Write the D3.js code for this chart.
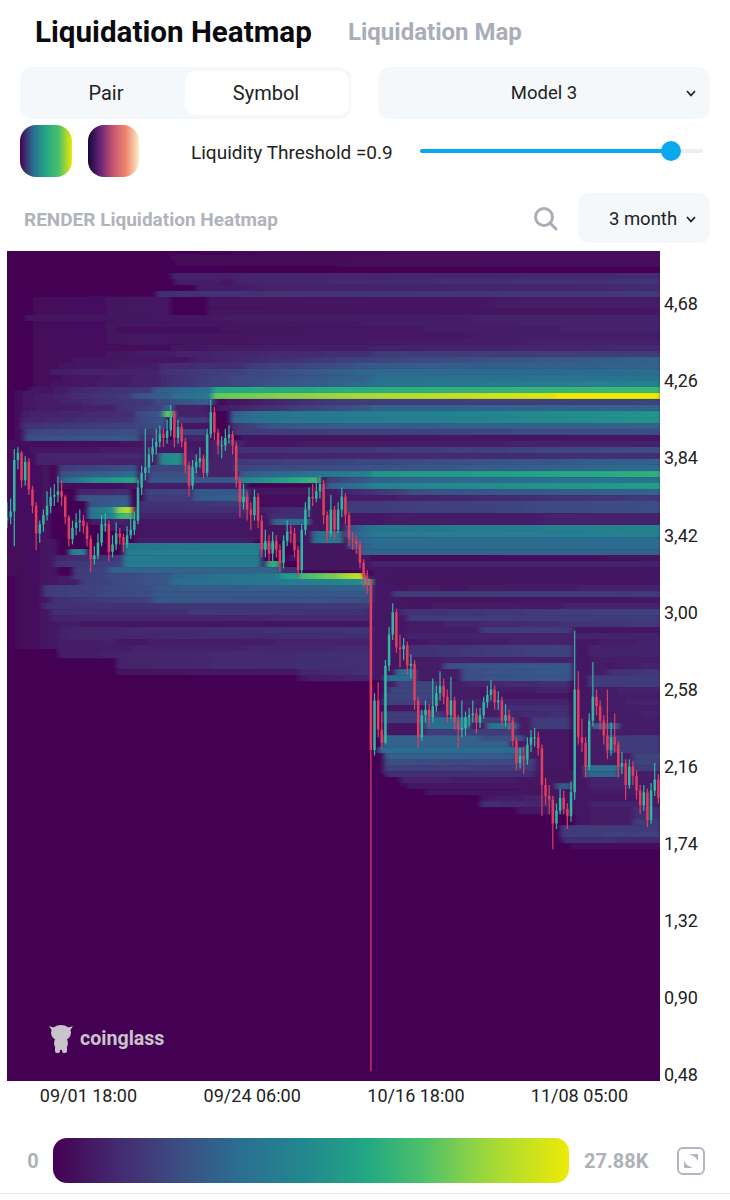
<!DOCTYPE html>
<html>
<head>
<meta charset="utf-8">
<script src="https://cdn.jsdelivr.net/npm/d3@7"></script>
<style>
  html, body { margin: 0; padding: 0; background: #fff; }
  svg { display: block; }
  text { font-family: Roboto, sans-serif; }
</style>
</head>
<body>
<script>
/* Axis ticks. */
const priceTicks = [4.68, 4.26, 3.84, 3.42, 3.00, 2.58, 2.16, 1.74, 1.32, 0.90, 0.48]
const dateTicks = ["2024-09-01T18:00Z", "2024-09-24T06:00Z", "2024-10-16T18:00Z", "2024-11-08T05:00Z"]

/* Legend, values in K. */
const legendValues = [0, 3.5, 7, 10, 13.5, 17, 20, 23.5, 27.88]
const legendColors = ["#440154", "#442a70", "#3b4f85", "#2b6d90", "#22878e", "#22a884", "#4dc06a", "#a0d83a", "#eeea05"]

/* 12 hour candles, open is the previous close. */
const candleClose = [3.52,3.55,3.83,3.87,3.72,3.82,3.67,3.58,3.43,3.48,3.53,3.58,3.63,3.64,3.66,3.63,3.52,3.40,3.46,3.49,
  3.50,3.47,3.40,3.29,3.31,3.38,3.48,3.48,3.33,3.37,3.43,3.41,3.37,3.42,3.45,3.50,3.68,3.76,3.79,3.86,
  3.90,3.93,3.97,3.95,3.99,4.08,3.95,4.01,3.93,3.80,3.69,3.79,3.82,3.84,3.76,3.97,4.09,3.98,3.91,3.91,
  3.95,3.97,3.91,3.72,3.60,3.63,3.56,3.53,3.63,3.50,3.34,3.39,3.32,3.39,3.34,3.27,3.39,3.44,3.43,3.34,
  3.23,3.45,3.56,3.63,3.62,3.66,3.70,3.53,3.43,3.56,3.45,3.56,3.63,3.53,3.40,3.39,3.37,3.27,3.19,3.16,
  2.25,2.52,2.36,2.29,2.71,2.88,3.00,2.81,2.80,2.82,2.71,2.72,2.52,2.32,2.44,2.47,2.43,2.49,2.56,2.60,
  2.54,2.44,2.52,2.40,2.36,2.37,2.43,2.44,2.45,2.40,2.44,2.51,2.55,2.58,2.51,2.52,2.41,2.44,2.41,2.30,
  2.18,2.22,2.20,2.28,2.32,2.32,2.26,2.06,2.00,1.98,1.85,1.92,1.99,1.93,1.89,2.02,2.58,2.32,2.29,2.16,
  2.41,2.54,2.49,2.41,2.33,2.25,2.32,2.28,2.16,2.18,2.06,2.16,2.11,2.03,1.95,2.02,1.87,2.03,2.09,1.99]
const candleHigh = [3.60,3.62,3.89,3.90,3.88,3.85,3.84,3.69,3.60,3.50,3.56,3.66,3.68,3.70,3.74,3.72,3.64,3.53,3.50,3.54,
  3.56,3.53,3.49,3.42,3.36,3.43,3.53,3.54,3.50,3.42,3.49,3.46,3.43,3.47,3.54,3.55,3.72,3.80,4.00,3.90,
  3.95,4.00,4.02,4.00,4.05,4.13,4.10,4.05,4.03,3.95,3.82,3.83,3.86,3.90,3.86,4.00,4.16,4.12,4.00,3.96,
  4.00,4.02,3.99,3.93,3.74,3.70,3.66,3.60,3.67,3.65,3.53,3.45,3.42,3.44,3.42,3.37,3.42,3.50,3.48,3.46,
  3.36,3.48,3.60,3.68,3.70,3.72,3.74,3.72,3.55,3.64,3.58,3.60,3.68,3.65,3.55,3.44,3.42,3.39,3.29,3.23,
  3.18,2.56,2.62,2.46,2.74,2.92,3.05,3.02,2.88,2.86,2.84,2.77,2.74,2.54,2.47,2.52,2.50,2.64,2.60,2.68,
  2.64,2.58,2.65,2.54,2.44,2.52,2.46,2.48,2.52,2.48,2.48,2.54,2.60,2.63,2.60,2.57,2.54,2.50,2.47,2.43,
  2.32,2.26,2.27,2.32,2.36,2.37,2.35,2.28,2.10,2.06,2.00,1.96,2.04,2.03,1.96,2.08,2.90,2.68,2.42,2.32,
  2.45,2.73,2.58,2.52,2.44,2.58,2.40,2.45,2.30,2.24,2.20,2.20,2.19,2.14,2.06,2.06,2.04,2.07,2.18,2.12]
const candleLow = [3.46,3.48,3.36,3.78,3.68,3.69,3.64,3.54,3.34,3.38,3.44,3.50,3.54,3.58,3.60,3.58,3.48,3.36,3.37,3.42,
  3.44,3.43,3.36,3.22,3.26,3.29,3.36,3.44,3.28,3.30,3.34,3.37,3.33,3.35,3.40,3.42,3.48,3.64,3.72,3.76,
  3.82,3.86,3.90,3.90,3.92,3.96,3.90,3.92,3.90,3.76,3.63,3.67,3.76,3.79,3.73,3.74,3.95,3.94,3.86,3.84,
  3.88,3.92,3.86,3.68,3.52,3.56,3.50,3.45,3.50,3.46,3.30,3.30,3.26,3.28,3.30,3.22,3.24,3.36,3.38,3.30,
  3.19,3.20,3.42,3.52,3.58,3.60,3.62,3.48,3.38,3.41,3.40,3.43,3.52,3.48,3.36,3.34,3.32,3.24,3.14,3.10,
  0.50,2.22,2.32,2.26,2.28,2.68,2.85,2.78,2.70,2.74,2.66,2.64,2.47,2.26,2.30,2.40,2.38,2.40,2.46,2.52,
  2.50,2.40,2.42,2.36,2.26,2.32,2.33,2.38,2.40,2.34,2.37,2.42,2.48,2.52,2.47,2.47,2.38,2.38,2.36,2.27,
  2.14,2.15,2.12,2.17,2.24,2.27,2.22,1.89,1.95,1.90,1.71,1.82,1.90,1.90,1.82,1.86,1.98,2.28,2.24,2.10,
  2.14,2.38,2.44,2.36,2.28,2.20,2.22,2.24,2.10,2.12,1.98,2.04,2.06,1.98,1.90,1.92,1.83,1.85,2.00,1.96]

/* Wide faint areas under the rows: top price, bottom price, first candle, last candle, value at start and end in K. */
const heatBase = [
  [4.72,4.21,7,45,.8,2],[4.21,3.94,2,8,.8,2.5],[3.94,3.20,0,12,1,1.5],[3.40,2.80,2,14,.5,2],
  [3.20,2.75,14,80,2.5,3],[3.20,2.63,80,100,3,3],[3.94,3.39,37,66,2.5,3],[3.68,3.39,66,93,1.5,1.5],[3.42,3.23,80,100,1.5,1.5],
  [3.32,2.63,100,180,2,3],[2.63,2.12,103,155,2.5,2],[2.12,2.05,108,150,1.2,1],[2.93,1.81,156,180,2,2.5],[1.81,1.75,152,180,2.5,2],
  [2.14,1.90,140,156,1.5,1.5]
]

/* Heat runs: row top price, first candle, last candle, value at start and end in K. */
const heatRuns = [
  [4.980,45,180,.4,1],[4.947,45,180,.8,1],[4.915,46,180,.5,1],[4.882,46,180,.3,.3],
  [4.849,45,60,3,3],[4.849,60,180,3,3.5],[4.817,46,62,2.5,2],[4.817,62,180,3,4.5],[4.784,52,180,2.5,3.5],
  [4.751,41,180,4,5],[4.718,55,180,1.5,2.5],[4.686,55,180,1.5,2.5],[4.653,55,180,1.5,1.5],
  [4.620,5,40,1.5,1.5],[4.620,40,180,2,3],[4.588,40,180,1.5,3],[4.555,30,180,1,3],[4.522,42,180,1.5,2.5],[4.490,45,180,1.5,3],
  [4.457,15,45,1,1],[4.457,45,180,2,3.5],[4.424,33,55,2,3],[4.424,55,100,3,4],[4.424,100,180,5,5],
  [4.391,18,50,1.5,2],[4.391,50,90,2.5,5],[4.391,90,180,5.5,9],
  [4.359,14,42,1.5,2.5],[4.359,42,65,3.5,4],[4.359,65,95,5,7],[4.359,95,180,8,9],
  [4.326,12,42,2.5,3],[4.326,42,65,4,6],[4.326,65,95,6,9],[4.326,95,180,9.5,10],
  [4.293,15,42,1.5,3],[4.293,42,60,3.5,6],[4.293,60,100,6,9],[4.293,100,180,10,11],
  [4.261,12,42,1.5,3],[4.261,42,60,3.5,6],[4.261,60,100,6,10],[4.261,100,180,11,13],
  [4.228,6,17,1.5,2.5],[4.228,17,40,3,5],[4.228,40,56.6,8,11],[4.228,56.6,180,17,19],
  [4.195,6,17,2,3],[4.195,17,34,3.5,5],[4.195,34,45,7,9],[4.195,45,56.6,10,12],[4.195,56.6,100,21,24],[4.195,100,150,24,27],[4.195,150,180,27.88,27.88],
  [4.163,6,20,2,3],[4.163,20,40,3.5,5],[4.163,40,56.6,6,9],[4.163,57,90,1,5],[4.163,90,180,5,6],
  [4.130,5,30,2,3],[4.130,30,43,4,6],[4.130,43,45.6,9,9],[4.130,46,56,3,2.5],[4.130,57,100,2,8],[4.130,100,180,9,9],
  [4.097,4,35,2.5,4],[4.097,35,43,6,8],[4.097,43,45.6,20,22],[4.097,46,56,3,3],[4.097,61.3,70,8,11],[4.097,70,180,11,15],
  [4.064,4,35,3,4.5],[4.064,35,44,6,8],[4.064,46,56,5,5],[4.064,61.3,70,9,11],[4.064,70,180,11,15],
  [4.032,4,36,4,6],[4.032,36,44,6,7],[4.032,46,56,2,2],[4.032,61.3,75,4,8],[4.032,75,180,8,9],
  [3.999,5,36,6,7],[3.999,36,43,5,5],[3.999,47,55,6,6],[3.999,62,180,5,7],
  [3.966,5,36,7,8],[3.966,36,42,4,4],[3.966,47,56,3,3],[3.966,64,180,1.5,2],
  [3.934,6.3,37,1,1.5],[3.934,40,46,2,2],[3.934,47,56,2,2],[3.934,65,180,2,3],
  [3.901,6.3,37,1.5,2.5],[3.901,40,50,2,2],[3.901,51,56,2,2],[3.901,62.6,180,4,7],
  [3.868,8,37,3,3.5],[3.868,42,48,13,15],[3.868,53,56,1.5,1.5],[3.868,62.6,180,3,4],
  [3.836,8,37,3,3],[3.836,42,48,13,15],[3.836,62.6,180,5,9],
  [3.803,14,36,5,7],[3.803,39,51,6,6],[3.803,62.6,180,6,10],
  [3.770,14,36,7,10],[3.770,39,52,7,7],[3.770,64,100,8,13],[3.770,100,180,15,18],
  [3.737,14,22,8,13],[3.737,22,36,14,17],[3.737,39,64,8,8],[3.737,64,86,13,19],[3.737,87.4,100,5,8],[3.737,100,180,9,11],
  [3.705,14,36,1,1.5],[3.705,37,64,2.5,2.5],[3.705,87.4,100,8,12],[3.705,100,180,13,16],
  [3.672,19,34,3,4],[3.672,38,50,6,6],[3.672,51,66,8,8],[3.672,87.4,110,2,6],[3.672,110,180,7,9],
  [3.639,19,34,7,8],[3.639,38,50,5,5],[3.639,51,66,8,9],[3.639,67,85,1,1],[3.639,87.4,180,2,5],
  [3.607,22,34,7,9],[3.607,36,66,4,5],[3.607,67,85,1,1.5],[3.607,93,180,5,7],
  [3.574,22,30,10,15],[3.574,30,34.6,22,26],[3.574,36,66,4,4],[3.574,70,83,3,4],[3.574,93,180,5,7],
  [3.541,22,30,10,14],[3.541,30,34.6,18,20],[3.541,35,66,3,3],[3.541,72,83,4,4],[3.541,93,180,2,3],
  [3.509,22,34,2,3],[3.509,35,66,2,2],[3.509,73,83,9,10],[3.509,93,180,2,3],
  [3.476,26,34,2,2],[3.476,34,66,2,2],[3.476,76,85,2,2],[3.476,93,100,6,11],[3.476,100,180,11,13],
  [3.443,35,66,2,2],[3.443,76,85,2,2],[3.443,84,92,10,11],[3.443,93,100,8,11],[3.443,100,180,12,13],
  [3.410,35,68,2.5,2.5],[3.410,76,84,2,2],[3.410,84,92,11,12],[3.410,94,100,8,10],[3.410,100,180,10,10],
  [3.378,32,70,11,12],[3.378,70,74,7,5],[3.378,94,100,7,9],[3.378,100,180,10,10],
  [3.345,17,22,12,13],[3.345,32,70,12,13],[3.345,97,180,9,9],
  [3.312,13,32,3,5],[3.312,32,70,12,12],[3.312,77,85,2,2],[3.312,100,180,1,1.5],
  [3.280,13,32,4,6],[3.280,32,70,12,12],[3.280,71,75,17,18],[3.280,100,180,3,3],
  [3.247,18,28,5,6],[3.247,28,75,9,9],[3.247,75,80,4,4],[3.247,104,180,2,2],
  [3.214,18,45,5,8],[3.214,45,75,9,12],[3.214,75,80.5,15,16],[3.214,80.5,90,19,22],[3.214,90,98,22,26],[3.214,104,180,1.5,1.5],
  [3.182,20,45,5,8],[3.182,45,80,10,12],[3.182,80,98,12,14],[3.182,98,100,18,20],[3.182,104,180,1.5,2],
  [3.149,10,40,5,7],[3.149,40,100,8,9],[3.149,119,180,2,3],
  [3.116,10,40,5,7],[3.116,40,100,8,8],[3.116,106,180,5,5],
  [3.083,12,40,4,6],[3.083,40,100,8,7],[3.083,108,180,1.5,2],
  [3.051,10,100,4,5],[3.051,108,180,2,3],
  [3.018,12,50,4,4],[3.018,50,100,5,4],[3.018,108,180,4,6],
  [2.985,12,100,3,3.5],[2.985,110,180,5,5],
  [2.953,20,100,1.5,1.5],[2.953,120,180,3,5],
  [2.920,15,100,3,4.5],[2.920,130,155,5,5],[2.920,156,180,1.5,2],
  [2.887,14,100,3,4],[2.887,110,180,3,3],
  [2.855,30,100,2,3],[2.855,110,155,2,3],[2.855,160,180,2,3],
  [2.822,25,100,2.5,3.5],[2.822,110,155,4,6],[2.822,160,180,3,3],
  [2.789,30,100,3,4],[2.789,110,155,4,6],[2.789,160,180,3,3],
  [2.756,30,100,3,4],[2.756,120,155,3,3],
  [2.724,30,100,3,4],[2.724,120,155,7,8],[2.724,165,180,2,3],
  [2.691,30,80,1.5,2],[2.691,80,100,3,4],[2.691,107,112,10,10],[2.691,125,155,7,8],[2.691,165,180,4,5],
  [2.658,80,100,2,3],[2.658,104,112,10,10],[2.658,125,155,7,8],[2.658,160,180,5,5],
  [2.626,107,118,6,6],[2.626,125,155,3,4],[2.626,160,180,5,5],
  [2.593,105,118,6,6],[2.593,130,155,2,3],[2.593,165,180,2.5,3],
  [2.560,104,118,6,6],[2.560,130,155,2,2],
  [2.528,103,118,6,5],[2.528,125,155,3,3],[2.528,170,180,3,3],
  [2.495,103,120,2,1.5],[2.495,135,155,4,4],
  [2.462,103,120,5,5],[2.462,135,155,3,4],[2.462,165,180,2,3],
  [2.429,103,115,5,5],[2.429,115,127,10,10],[2.429,127,140,5,5],[2.429,144,155,5,5],
  [2.397,103,115,2,2],[2.397,115,127,10,10],[2.397,132,140,11,11],[2.397,144,155,5,5],[2.397,161,168,9,9],
  [2.364,103,115,2,2],[2.364,115,140,5,5],
  [2.331,103,130,9,9],[2.331,130,142,7,7],[2.331,165,180,5,5],
  [2.299,103,138,9,9],[2.299,165,180,5,5],
  [2.266,102,142,10,10],[2.266,165,180,5,5],
  [2.233,104,142,9,8],[2.233,172,180,6,6],
  [2.201,104,145,7,6],[2.201,172,180,6,6],
  [2.168,104,145,6,5],[2.168,159,168,10,11],[2.168,172,180,5,5],
  [2.135,104,145,4,4],[2.135,159,168,9,9],
  [2.102,108,145,3,2],[2.102,160,172,3,3],
  [2.070,110,145,2,2],[2.070,151,155,8,8],[2.070,160,172,3,3],
  [2.037,115,140,1.5,1.5],
  [2.004,130,150,2,3],[2.004,160,175,2,2],
  [1.972,130,150,4,3],[1.972,160,175,3,3],
  [1.939,140,155,2,2],[1.939,172,180,4,4],
  [1.906,172,180,4,4],[1.874,172,180,5,5],
  [1.841,152,180,5,5],[1.808,152,180,5,6],[1.775,153,180,4,3.5],[1.743,155,180,1,1]
]

/* Height of one heat row in price. */
const rowStep = 0.0327

/* Define svg-size. */
const width = 730
const height = 1200

/* Plot box. */
const plot = { left: 7, right: 660, top: 251, bottom: 1081 }

/* Create svg-element. */
const svg = d3.select("body")
  .append("svg")
  .attr("width", width)
  .attr("height", height)

const defs = svg.append("defs")

/* Define scales. */
const firstCandle = Date.UTC(2024, 7, 21, 15)
const candleDate = i => new Date(firstCandle + i * 12 * 3600 * 1000)

const x = d3.scaleUtc()
  .domain([candleDate(0), candleDate(180)])
  .range([plot.left, plot.left + 655])

const y = d3.scaleLinear()
  .domain([0.4473, 4.9687])
  .range([plot.bottom, plot.top])

const color = d3.scaleLinear()
  .domain(legendValues)
  .range(legendColors)
  .interpolate(d3.interpolateRgb)

/* Small helpers for the control panel. */
const panel = (px, py, w, h, r, fill) => svg.append("rect")
  .attr("x", px).attr("y", py).attr("width", w).attr("height", h)
  .attr("rx", r).attr("fill", fill)

const label = (px, py, str, size, fill, weight, anchor) => svg.append("text")
  .attr("x", px).attr("y", py)
  .attr("font-size", size).attr("fill", fill)
  .attr("font-weight", weight || 400)
  .attr("text-anchor", anchor || "start")
  .attr("dominant-baseline", "central")
  .text(str)

const chevron = (cx, cy) => svg.append("path")
  .attr("d", `M${cx - 4},${cy - 2}L${cx},${cy + 2.5}L${cx + 4},${cy - 2}`)
  .attr("fill", "none").attr("stroke", "#222").attr("stroke-width", 1.8)

const hGradient = (id, stops) => {
  const g = defs.append("linearGradient").attr("id", id)
  stops.forEach((s, i) => g.append("stop")
    .attr("offset", i / (stops.length - 1))
    .attr("stop-color", s))
}

/* Header. */
label(35, 32, "Liquidation Heatmap", 29.6, "#0b0b0f", 700)
label(348, 32, "Liquidation Map", 24, "#a9aeb6", 700)

panel(20, 67, 331, 52, 12, "#f5f8fa")
panel(185, 71, 164, 44, 10, "#ffffff")
label(106, 93, "Pair", 20, "#222", 400, "middle")
label(266, 93, "Symbol", 20, "#222", 400, "middle")

panel(378, 67, 332, 52, 12, "#f5f8fa")
label(544, 93, "Model 3", 18.5, "#222", 400, "middle")
chevron(691, 93)

/* Colour scheme buttons. */
hGradient("swatch1", ["#440154", "#2b6d90", "#22a884", "#4dc06a", "#eeea05"])
hGradient("swatch2", ["#14083a", "#6b2478", "#c9566f", "#f0876e", "#fbeec8"])
panel(20, 125, 52, 52, 16, "url(#swatch1)")
panel(88, 125, 51, 52, 16, "url(#swatch2)")

/* Threshold slider. */
label(191, 152, "Liquidity Threshold =0.9", 19, "#222")
panel(420, 149, 283, 4, 2, "#eeeeee")
panel(420, 149, 251, 4, 2, "#0aa8ee")
svg.append("circle").attr("cx", 671).attr("cy", 151).attr("r", 10).attr("fill", "#0aa8ee")

/* Chart title row. */
label(24, 219, "RENDER Liquidation Heatmap", 19, "#b0b4ba", 700)
svg.append("circle").attr("cx", 544).attr("cy", 217).attr("r", 8.5)
  .attr("fill", "none").attr("stroke", "#a9aeb6").attr("stroke-width", 3)
svg.append("line").attr("x1", 550).attr("y1", 223).attr("x2", 556).attr("y2", 229)
  .attr("stroke", "#a9aeb6").attr("stroke-width", 3).attr("stroke-linecap", "round")
panel(578, 193, 132, 50, 10, "#f5f8fa")
label(643, 219, "3 month", 18.5, "#222", 400, "middle")
chevron(691, 219)

/* Heatmap background. */
svg.append("rect")
  .attr("x", plot.left).attr("y", plot.top)
  .attr("width", plot.right - plot.left).attr("height", plot.bottom - plot.top)
  .attr("fill", color(0))

defs.append("clipPath").attr("id", "plotClip")
  .append("rect")
  .attr("x", plot.left).attr("y", plot.top)
  .attr("width", plot.right - plot.left).attr("height", plot.bottom - plot.top)

defs.append("filter").attr("id", "heatBlur")
  .attr("x", "-2%").attr("y", "-2%").attr("width", "104%").attr("height", "104%")
  .append("feGaussianBlur").attr("stdDeviation", "2.5 0.6")

defs.append("filter").attr("id", "candleBlur")
  .attr("x", "-2%").attr("y", "-2%").attr("width", "104%").attr("height", "104%")
  .append("feGaussianBlur").attr("stdDeviation", "0.5")

/* A run fades from its first value to its last one. */
let gradientCount = 0
const fadeFill = (from, to) => {
  if (from === to) return color(from)
  const id = `run${gradientCount++}`
  const g = defs.append("linearGradient").attr("id", id)
  d3.range(5).forEach(s => g.append("stop")
    .attr("offset", s / 4)
    .attr("stop-color", color(from + (to - from) * s / 4)))
  return `url(#${id})`
}

const chart = svg.append("g").attr("clip-path", "url(#plotClip)")
const heat = chart.append("g").attr("filter", "url(#heatBlur)")

heat.append("g")
  .selectAll("rect")
  .data(heatBase)
  .enter()
  .append("rect")
  .attr("x", d => x(candleDate(d[2])))
  .attr("width", d => x(candleDate(d[3])) - x(candleDate(d[2])))
  .attr("y", d => y(d[0]))
  .attr("height", d => y(d[1]) - y(d[0]))
  .attr("fill", d => fadeFill(d[4], d[5]))

heat.append("g")
  .selectAll("rect")
  .data(heatRuns)
  .enter()
  .append("rect")
  .attr("x", d => x(candleDate(d[1])))
  .attr("width", d => x(candleDate(d[2])) - x(candleDate(d[1])))
  .attr("y", d => y(d[0]))
  .attr("height", d => y(d[0] - rowStep) - y(d[0]))
  .attr("fill", d => fadeFill(d[3], d[4]))

/* Candles. */
const upColor = "#2fb8a2"
const downColor = "#e03c60"
const candles = candleClose.map((c, i) => ({
  i,
  open: i ? candleClose[i - 1] : 3.50,
  close: c,
  high: candleHigh[i],
  low: candleLow[i]
}))

const candle = chart.append("g")
  .attr("filter", "url(#candleBlur)")
  .selectAll("g")
  .data(candles)
  .enter()
  .append("g")

candle.append("line")
  .attr("x1", d => x(candleDate(d.i)))
  .attr("x2", d => x(candleDate(d.i)))
  .attr("y1", d => y(d.high))
  .attr("y2", d => y(d.low))
  .attr("stroke", d => d.close >= d.open ? upColor : downColor)
  .attr("stroke-width", 1.2)

candle.append("rect")
  .attr("x", d => x(candleDate(d.i)) - 1.25)
  .attr("width", 2.5)
  .attr("y", d => y(Math.max(d.open, d.close)))
  .attr("height", d => Math.max(1, Math.abs(y(d.open) - y(d.close))))
  .attr("fill", d => d.close >= d.open ? upColor : downColor)

/* Watermark. */
const logo = svg.append("g").attr("fill", "#c9c4cb")
logo.append("ellipse").attr("cx", 61).attr("cy", 1033).attr("rx", 10).attr("ry", 8)
logo.append("ellipse").attr("cx", 61).attr("cy", 1043).attr("rx", 7).attr("ry", 7)
logo.append("rect").attr("x", 55).attr("y", 1046).attr("width", 5).attr("height", 7).attr("rx", 2)
logo.append("rect").attr("x", 62).attr("y", 1046).attr("width", 5).attr("height", 7).attr("rx", 2)
logo.append("path").attr("d", "M49,1026L55,1028L53,1032Z")
logo.append("path").attr("d", "M73,1026L67,1028L69,1032Z")
label(80, 1038, "coinglass", 19.6, "#c9c4cb", 700)

/* Axes. */
const commaLocale = d3.formatLocale({ decimal: ",", thousands: ".", grouping: [3], currency: ["", ""] })

const yAxis = d3.axisRight(y)
  .tickValues(priceTicks)
  .tickSize(0)
  .tickPadding(4)
  .tickFormat(commaLocale.format(".2f"))

const xAxis = d3.axisBottom(x)
  .tickValues(dateTicks.map(d => new Date(d)))
  .tickSize(0)
  .tickPadding(8)
  .tickFormat(d3.utcFormat("%m/%d %H:%M"))

svg.append("g")
  .attr("transform", `translate(${plot.right},0)`)
  .call(yAxis)
  .call(g => g.select(".domain").remove())
  .selectAll("text")
  .attr("font-size", 18).attr("fill", "#222").attr("font-family", "Roboto, sans-serif")

svg.append("g")
  .attr("transform", `translate(0,${plot.bottom})`)
  .call(xAxis)
  .call(g => g.select(".domain").remove())
  .selectAll("text")
  .attr("font-size", 18).attr("fill", "#222").attr("font-family", "Roboto, sans-serif")

/* Legend. */
const legendScale = d3.scaleLinear().domain([0, 27.88]).range([53, 569])
const legendGradient = defs.append("linearGradient").attr("id", "legend")
legendValues.forEach(v => legendGradient.append("stop")
  .attr("offset", v / 27.88)
  .attr("stop-color", color(v)))

svg.append("rect")
  .attr("x", legendScale(0)).attr("y", 1138)
  .attr("width", legendScale(27.88) - legendScale(0)).attr("height", 45)
  .attr("rx", 14)
  .attr("fill", "url(#legend)")

label(33, 1161, "0", 20, "#aeb2b8", 700, "middle")
label(584, 1161, "27.88K", 20, "#aeb2b8", 700)

/* Fullscreen icon. */
panel(678, 1148, 26, 26, 5, "none")
  .attr("stroke", "#b0b6c2").attr("stroke-width", 2)
svg.append("path")
  .attr("d", "M689,1154L698,1154L698,1161L695,1157Z M693,1168L684,1168L684,1161L687,1165Z")
  .attr("fill", "#b0b6c2")

/* Bottom rule. */
svg.append("line")
  .attr("x1", 0).attr("x2", width).attr("y1", 1193.5).attr("y2", 1193.5)
  .attr("stroke", "#e6e6e6")
</script>
</body>
</html>
